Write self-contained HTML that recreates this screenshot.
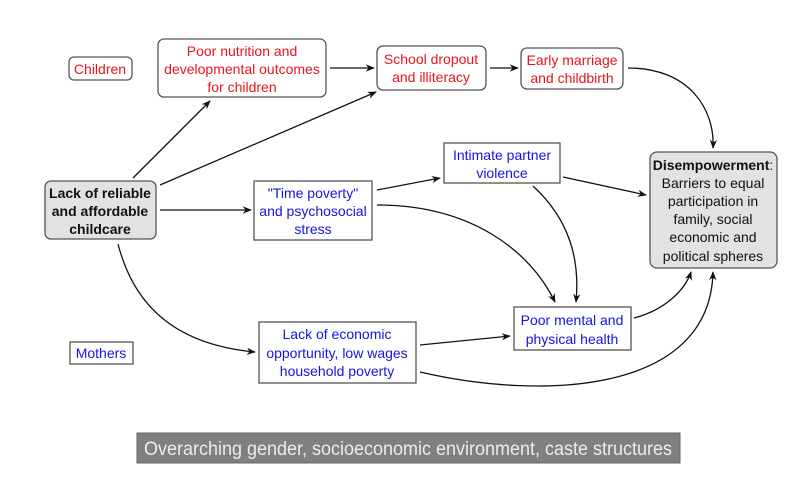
<!DOCTYPE html>
<html><head><meta charset="utf-8"><style>
html,body{margin:0;padding:0;background:#fff;}
svg text{font-family:"Liberation Sans",sans-serif;font-size:14px;text-anchor:middle;}
.r{fill:#e8141c}.b{fill:#1414e0}.k{fill:#111}
</style></head><body>
<svg width="805" height="473" viewBox="0 0 805 473" xmlns="http://www.w3.org/2000/svg">
<defs><marker id="a" viewBox="0 0 10 10" refX="9" refY="5" markerWidth="7" markerHeight="7" orient="auto"><path d="M0,1 L10,5 L0,9 L3,5 Z" fill="#111"/></marker></defs>
<g fill="none" stroke="#555" stroke-width="1.3">
<rect x="69" y="57" width="63" height="23" rx="5"/>
<rect x="158" y="39" width="168" height="58" rx="6"/>
<rect x="377" y="46" width="109" height="44" rx="6"/>
<rect x="521" y="48" width="102" height="41" rx="6"/>
<rect x="45" y="181" width="111" height="58" rx="6" fill="#e2e2e2"/>
<rect x="254" y="181" width="118" height="59"/>
<rect x="444" y="143" width="116" height="40"/>
<rect x="650" y="152" width="127" height="116" rx="7" fill="#e2e2e2"/>
<rect x="514" y="307" width="117" height="43"/>
<rect x="70" y="342" width="63" height="22"/>
<rect x="259" y="322" width="157" height="61"/>
</g>
<rect x="137" y="433" width="543" height="30" fill="#808080" stroke="#666"/>
<g fill="none" stroke="#111" stroke-width="1.3" marker-end="url(#a)">
<path d="M133,178 L210,101"/>
<path d="M160,185 L376,92"/>
<path d="M160,210 L251,210"/>
<path d="M118,244 C135,310 180,345 255,352"/>
<path d="M330,68 L374,68"/>
<path d="M490,68 L518,68"/>
<path d="M628,68 C690,68 715,110 713,148"/>
<path d="M377,190 L440,178"/>
<path d="M377,205 C470,205 530,250 555,302"/>
<path d="M533,186 C570,220 580,260 576,302"/>
<path d="M563,177 L646,195"/>
<path d="M634,318 C665,310 685,290 691,272"/>
<path d="M420,345 L510,336"/>
<path d="M420,372 C540,400 710,395 713,272"/>
</g>
<text x="100" y="74" class="r">Children</text>
<text class="r"><tspan x="242" y="56">Poor nutrition and</tspan><tspan x="242" y="74">developmental outcomes</tspan><tspan x="242" y="92">for children</tspan></text>
<text class="r"><tspan x="431" y="64">School dropout</tspan><tspan x="431" y="82">and illiteracy</tspan></text>
<text class="r"><tspan x="572" y="65">Early marriage</tspan><tspan x="572" y="83">and childbirth</tspan></text>
<text class="k" font-weight="bold"><tspan x="100" y="198">Lack of reliable</tspan><tspan x="100" y="216">and affordable</tspan><tspan x="100" y="234">childcare</tspan></text>
<text class="b"><tspan x="313" y="198">"Time poverty"</tspan><tspan x="313" y="216">and psychosocial</tspan><tspan x="313" y="234">stress</tspan></text>
<text class="b"><tspan x="502" y="160">Intimate partner</tspan><tspan x="502" y="178">violence</tspan></text>
<text class="k"><tspan x="713" y="170"><tspan font-weight="bold">Disempowerment</tspan>:</tspan><tspan x="713" y="188">Barriers to equal</tspan><tspan x="713" y="206">participation in</tspan><tspan x="713" y="224">family, social</tspan><tspan x="713" y="242">economic and</tspan><tspan x="713" y="261">political spheres</tspan></text>
<text class="b"><tspan x="572" y="325">Poor mental and</tspan><tspan x="572" y="344">physical health</tspan></text>
<text class="b" x="101" y="358">Mothers</text>
<text class="b"><tspan x="337" y="339">Lack of economic</tspan><tspan x="337" y="358">opportunity, low wages</tspan><tspan x="337" y="376">household poverty</tspan></text>
<text x="408" y="455" fill="#ececec" style="font-size:19px" textLength="528" lengthAdjust="spacingAndGlyphs">Overarching gender, socioeconomic environment, caste structures</text>
</svg>
</body></html>
